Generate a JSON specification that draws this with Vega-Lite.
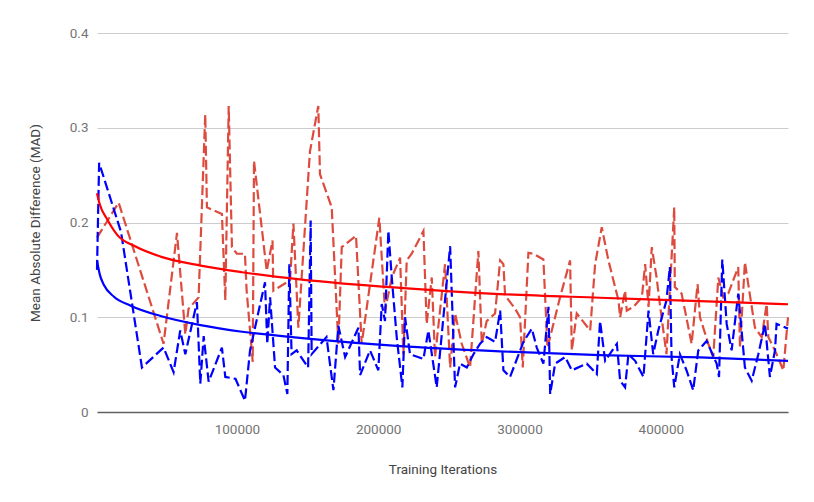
{
  "$schema": "https://vega.github.io/schema/vega-lite/v6.json",
  "width": 691,
  "height": 379,
  "autosize": "none",
  "padding": {"left": 97, "top": 33, "right": 26, "bottom": 90},
  "config": {
    "font": "Roboto",
    "view": {"stroke": null},
    "axis": {
      "labelColor": "#757575",
      "labelFontSize": 13.5,
      "titleColor": "#444444",
      "titleFontSize": 13.5,
      "titleFontWeight": "normal",
      "ticks": false
    }
  },
  "datasets": {
    "measured": [
      {"iter": 1000, "mad": 0.184, "series": "Red"},
      {"iter": 16300, "mad": 0.221, "series": "Red"},
      {"iter": 48100, "mad": 0.072, "series": "Red"},
      {"iter": 57600, "mad": 0.189, "series": "Red"},
      {"iter": 63500, "mad": 0.082, "series": "Red"},
      {"iter": 65800, "mad": 0.109, "series": "Red"},
      {"iter": 72900, "mad": 0.121, "series": "Red"},
      {"iter": 77600, "mad": 0.314, "series": "Red"},
      {"iter": 78800, "mad": 0.216, "series": "Red"},
      {"iter": 89400, "mad": 0.209, "series": "Red"},
      {"iter": 91800, "mad": 0.118, "series": "Red"},
      {"iter": 94200, "mad": 0.323, "series": "Red"},
      {"iter": 96500, "mad": 0.174, "series": "Red"},
      {"iter": 100000, "mad": 0.167, "series": "Red"},
      {"iter": 105700, "mad": 0.167, "series": "Red"},
      {"iter": 106900, "mad": 0.128, "series": "Red"},
      {"iter": 111200, "mad": 0.053, "series": "Red"},
      {"iter": 112100, "mad": 0.265, "series": "Red"},
      {"iter": 121100, "mad": 0.149, "series": "Red"},
      {"iter": 125200, "mad": 0.181, "series": "Red"},
      {"iter": 125800, "mad": 0.128, "series": "Red"},
      {"iter": 137600, "mad": 0.139, "series": "Red"},
      {"iter": 140000, "mad": 0.199, "series": "Red"},
      {"iter": 143500, "mad": 0.089, "series": "Red"},
      {"iter": 151700, "mad": 0.275, "series": "Red"},
      {"iter": 157600, "mad": 0.323, "series": "Red"},
      {"iter": 158800, "mad": 0.251, "series": "Red"},
      {"iter": 167100, "mad": 0.216, "series": "Red"},
      {"iter": 171800, "mad": 0.072, "series": "Red"},
      {"iter": 174200, "mad": 0.174, "series": "Red"},
      {"iter": 184300, "mad": 0.186, "series": "Red"},
      {"iter": 188300, "mad": 0.072, "series": "Red"},
      {"iter": 200800, "mad": 0.205, "series": "Red"},
      {"iter": 204800, "mad": 0.107, "series": "Red"},
      {"iter": 209600, "mad": 0.142, "series": "Red"},
      {"iter": 215500, "mad": 0.163, "series": "Red"},
      {"iter": 217800, "mad": 0.061, "series": "Red"},
      {"iter": 220200, "mad": 0.160, "series": "Red"},
      {"iter": 223700, "mad": 0.167, "series": "Red"},
      {"iter": 232000, "mad": 0.191, "series": "Red"},
      {"iter": 234300, "mad": 0.093, "series": "Red"},
      {"iter": 237900, "mad": 0.142, "series": "Red"},
      {"iter": 240200, "mad": 0.058, "series": "Red"},
      {"iter": 247300, "mad": 0.156, "series": "Red"},
      {"iter": 250900, "mad": 0.047, "series": "Red"},
      {"iter": 254400, "mad": 0.104, "series": "Red"},
      {"iter": 259100, "mad": 0.072, "series": "Red"},
      {"iter": 265000, "mad": 0.047, "series": "Red"},
      {"iter": 270900, "mad": 0.170, "series": "Red"},
      {"iter": 273300, "mad": 0.072, "series": "Red"},
      {"iter": 276800, "mad": 0.096, "series": "Red"},
      {"iter": 282700, "mad": 0.104, "series": "Red"},
      {"iter": 286300, "mad": 0.160, "series": "Red"},
      {"iter": 288600, "mad": 0.156, "series": "Red"},
      {"iter": 289800, "mad": 0.123, "series": "Red"},
      {"iter": 296900, "mad": 0.109, "series": "Red"},
      {"iter": 300400, "mad": 0.100, "series": "Red"},
      {"iter": 302300, "mad": 0.047, "series": "Red"},
      {"iter": 306300, "mad": 0.168, "series": "Red"},
      {"iter": 309900, "mad": 0.167, "series": "Red"},
      {"iter": 316900, "mad": 0.161, "series": "Red"},
      {"iter": 319800, "mad": 0.068, "series": "Red"},
      {"iter": 328700, "mad": 0.121, "series": "Red"},
      {"iter": 335800, "mad": 0.160, "series": "Red"},
      {"iter": 337000, "mad": 0.065, "series": "Red"},
      {"iter": 340500, "mad": 0.104, "series": "Red"},
      {"iter": 350000, "mad": 0.086, "series": "Red"},
      {"iter": 353500, "mad": 0.156, "series": "Red"},
      {"iter": 358200, "mad": 0.195, "series": "Red"},
      {"iter": 362900, "mad": 0.160, "series": "Red"},
      {"iter": 370000, "mad": 0.118, "series": "Red"},
      {"iter": 371200, "mad": 0.100, "series": "Red"},
      {"iter": 374700, "mad": 0.128, "series": "Red"},
      {"iter": 375900, "mad": 0.107, "series": "Red"},
      {"iter": 380600, "mad": 0.111, "series": "Red"},
      {"iter": 386600, "mad": 0.121, "series": "Red"},
      {"iter": 388900, "mad": 0.156, "series": "Red"},
      {"iter": 391300, "mad": 0.111, "series": "Red"},
      {"iter": 393600, "mad": 0.174, "series": "Red"},
      {"iter": 397000, "mad": 0.142, "series": "Red"},
      {"iter": 399300, "mad": 0.114, "series": "Red"},
      {"iter": 404000, "mad": 0.061, "series": "Red"},
      {"iter": 409500, "mad": 0.216, "series": "Red"},
      {"iter": 409900, "mad": 0.132, "series": "Red"},
      {"iter": 414700, "mad": 0.125, "series": "Red"},
      {"iter": 421800, "mad": 0.072, "series": "Red"},
      {"iter": 426000, "mad": 0.135, "series": "Red"},
      {"iter": 427700, "mad": 0.100, "series": "Red"},
      {"iter": 433600, "mad": 0.072, "series": "Red"},
      {"iter": 437100, "mad": 0.058, "series": "Red"},
      {"iter": 440700, "mad": 0.142, "series": "Red"},
      {"iter": 444200, "mad": 0.121, "series": "Red"},
      {"iter": 447700, "mad": 0.125, "series": "Red"},
      {"iter": 454800, "mad": 0.153, "series": "Red"},
      {"iter": 456000, "mad": 0.068, "series": "Red"},
      {"iter": 459500, "mad": 0.158, "series": "Red"},
      {"iter": 466600, "mad": 0.089, "series": "Red"},
      {"iter": 471400, "mad": 0.079, "series": "Red"},
      {"iter": 474900, "mad": 0.114, "series": "Red"},
      {"iter": 476100, "mad": 0.079, "series": "Red"},
      {"iter": 480800, "mad": 0.065, "series": "Red"},
      {"iter": 486700, "mad": 0.044, "series": "Red"},
      {"iter": 490000, "mad": 0.100, "series": "Red"},
      {"iter": 1000, "mad": 0.150, "series": "Blue"},
      {"iter": 2500, "mad": 0.263, "series": "Blue"},
      {"iter": 18000, "mad": 0.190, "series": "Blue"},
      {"iter": 32800, "mad": 0.047, "series": "Blue"},
      {"iter": 48100, "mad": 0.068, "series": "Blue"},
      {"iter": 55200, "mad": 0.042, "series": "Blue"},
      {"iter": 59900, "mad": 0.086, "series": "Blue"},
      {"iter": 63500, "mad": 0.061, "series": "Blue"},
      {"iter": 71700, "mad": 0.116, "series": "Blue"},
      {"iter": 74100, "mad": 0.030, "series": "Blue"},
      {"iter": 76500, "mad": 0.080, "series": "Blue"},
      {"iter": 80000, "mad": 0.032, "series": "Blue"},
      {"iter": 89400, "mad": 0.068, "series": "Blue"},
      {"iter": 91800, "mad": 0.037, "series": "Blue"},
      {"iter": 99000, "mad": 0.035, "series": "Blue"},
      {"iter": 105700, "mad": 0.012, "series": "Blue"},
      {"iter": 109300, "mad": 0.065, "series": "Blue"},
      {"iter": 119900, "mad": 0.137, "series": "Blue"},
      {"iter": 121500, "mad": 0.072, "series": "Blue"},
      {"iter": 123500, "mad": 0.121, "series": "Blue"},
      {"iter": 127000, "mad": 0.047, "series": "Blue"},
      {"iter": 132900, "mad": 0.039, "series": "Blue"},
      {"iter": 135700, "mad": 0.019, "series": "Blue"},
      {"iter": 137100, "mad": 0.156, "series": "Blue"},
      {"iter": 138700, "mad": 0.061, "series": "Blue"},
      {"iter": 142300, "mad": 0.065, "series": "Blue"},
      {"iter": 150400, "mad": 0.047, "series": "Blue"},
      {"iter": 152200, "mad": 0.202, "series": "Blue"},
      {"iter": 152900, "mad": 0.061, "series": "Blue"},
      {"iter": 163400, "mad": 0.079, "series": "Blue"},
      {"iter": 168300, "mad": 0.023, "series": "Blue"},
      {"iter": 171800, "mad": 0.091, "series": "Blue"},
      {"iter": 176600, "mad": 0.058, "series": "Blue"},
      {"iter": 186000, "mad": 0.089, "series": "Blue"},
      {"iter": 187200, "mad": 0.039, "series": "Blue"},
      {"iter": 194200, "mad": 0.065, "series": "Blue"},
      {"iter": 200100, "mad": 0.044, "series": "Blue"},
      {"iter": 202500, "mad": 0.114, "series": "Blue"},
      {"iter": 204800, "mad": 0.096, "series": "Blue"},
      {"iter": 207200, "mad": 0.191, "series": "Blue"},
      {"iter": 209600, "mad": 0.142, "series": "Blue"},
      {"iter": 213100, "mad": 0.079, "series": "Blue"},
      {"iter": 217100, "mad": 0.026, "series": "Blue"},
      {"iter": 219000, "mad": 0.100, "series": "Blue"},
      {"iter": 222500, "mad": 0.061, "series": "Blue"},
      {"iter": 232000, "mad": 0.056, "series": "Blue"},
      {"iter": 235500, "mad": 0.086, "series": "Blue"},
      {"iter": 241400, "mad": 0.026, "series": "Blue"},
      {"iter": 245000, "mad": 0.082, "series": "Blue"},
      {"iter": 250900, "mad": 0.175, "series": "Blue"},
      {"iter": 254400, "mad": 0.026, "series": "Blue"},
      {"iter": 257900, "mad": 0.051, "series": "Blue"},
      {"iter": 262700, "mad": 0.047, "series": "Blue"},
      {"iter": 267400, "mad": 0.061, "series": "Blue"},
      {"iter": 272100, "mad": 0.072, "series": "Blue"},
      {"iter": 276800, "mad": 0.079, "series": "Blue"},
      {"iter": 282700, "mad": 0.074, "series": "Blue"},
      {"iter": 286300, "mad": 0.107, "series": "Blue"},
      {"iter": 288600, "mad": 0.044, "series": "Blue"},
      {"iter": 293300, "mad": 0.037, "series": "Blue"},
      {"iter": 296900, "mad": 0.051, "series": "Blue"},
      {"iter": 302800, "mad": 0.074, "series": "Blue"},
      {"iter": 308700, "mad": 0.088, "series": "Blue"},
      {"iter": 312200, "mad": 0.068, "series": "Blue"},
      {"iter": 316900, "mad": 0.051, "series": "Blue"},
      {"iter": 320500, "mad": 0.111, "series": "Blue"},
      {"iter": 321700, "mad": 0.019, "series": "Blue"},
      {"iter": 325200, "mad": 0.051, "series": "Blue"},
      {"iter": 332300, "mad": 0.058, "series": "Blue"},
      {"iter": 337000, "mad": 0.044, "series": "Blue"},
      {"iter": 347600, "mad": 0.051, "series": "Blue"},
      {"iter": 354700, "mad": 0.040, "series": "Blue"},
      {"iter": 357000, "mad": 0.096, "series": "Blue"},
      {"iter": 360600, "mad": 0.054, "series": "Blue"},
      {"iter": 368900, "mad": 0.072, "series": "Blue"},
      {"iter": 371200, "mad": 0.033, "series": "Blue"},
      {"iter": 374700, "mad": 0.026, "series": "Blue"},
      {"iter": 377100, "mad": 0.061, "series": "Blue"},
      {"iter": 381800, "mad": 0.054, "series": "Blue"},
      {"iter": 387700, "mad": 0.037, "series": "Blue"},
      {"iter": 391300, "mad": 0.107, "series": "Blue"},
      {"iter": 394600, "mad": 0.061, "series": "Blue"},
      {"iter": 398200, "mad": 0.086, "series": "Blue"},
      {"iter": 404000, "mad": 0.118, "series": "Blue"},
      {"iter": 406400, "mad": 0.153, "series": "Blue"},
      {"iter": 407600, "mad": 0.058, "series": "Blue"},
      {"iter": 409500, "mad": 0.026, "series": "Blue"},
      {"iter": 413500, "mad": 0.061, "series": "Blue"},
      {"iter": 418200, "mad": 0.044, "series": "Blue"},
      {"iter": 422900, "mad": 0.023, "series": "Blue"},
      {"iter": 426500, "mad": 0.065, "series": "Blue"},
      {"iter": 432400, "mad": 0.075, "series": "Blue"},
      {"iter": 439500, "mad": 0.051, "series": "Blue"},
      {"iter": 441200, "mad": 0.037, "series": "Blue"},
      {"iter": 443500, "mad": 0.161, "series": "Blue"},
      {"iter": 446600, "mad": 0.093, "series": "Blue"},
      {"iter": 450100, "mad": 0.065, "series": "Blue"},
      {"iter": 454800, "mad": 0.125, "series": "Blue"},
      {"iter": 459500, "mad": 0.047, "series": "Blue"},
      {"iter": 464300, "mad": 0.033, "series": "Blue"},
      {"iter": 469000, "mad": 0.061, "series": "Blue"},
      {"iter": 473700, "mad": 0.093, "series": "Blue"},
      {"iter": 477200, "mad": 0.037, "series": "Blue"},
      {"iter": 480800, "mad": 0.065, "series": "Blue"},
      {"iter": 481900, "mad": 0.093, "series": "Blue"},
      {"iter": 490000, "mad": 0.088, "series": "Blue"}
    ],
    "trend": [
      {"iter": 1000, "mad": 0.231, "series": "Red"},
      {"iter": 3000, "mad": 0.219, "series": "Red"},
      {"iter": 8200, "mad": 0.2035, "series": "Red"},
      {"iter": 15300, "mad": 0.187, "series": "Red"},
      {"iter": 28300, "mad": 0.1746, "series": "Red"},
      {"iter": 46000, "mad": 0.164, "series": "Red"},
      {"iter": 74300, "mad": 0.1545, "series": "Red"},
      {"iter": 103700, "mad": 0.1475, "series": "Red"},
      {"iter": 144500, "mad": 0.140, "series": "Red"},
      {"iter": 215400, "mad": 0.131, "series": "Red"},
      {"iter": 286000, "mad": 0.1245, "series": "Red"},
      {"iter": 356900, "mad": 0.1206, "series": "Red"},
      {"iter": 427700, "mad": 0.117, "series": "Red"},
      {"iter": 490000, "mad": 0.1137, "series": "Red"},
      {"iter": 1000, "mad": 0.160, "series": "Blue"},
      {"iter": 3000, "mad": 0.145, "series": "Blue"},
      {"iter": 5900, "mad": 0.134, "series": "Blue"},
      {"iter": 13000, "mad": 0.1217, "series": "Blue"},
      {"iter": 24800, "mad": 0.1122, "series": "Blue"},
      {"iter": 46000, "mad": 0.1013, "series": "Blue"},
      {"iter": 74300, "mad": 0.0917, "series": "Blue"},
      {"iter": 103700, "mad": 0.0847, "series": "Blue"},
      {"iter": 144500, "mad": 0.0783, "series": "Blue"},
      {"iter": 215400, "mad": 0.0695, "series": "Blue"},
      {"iter": 286000, "mad": 0.064, "series": "Blue"},
      {"iter": 356900, "mad": 0.060, "series": "Blue"},
      {"iter": 427700, "mad": 0.0576, "series": "Blue"},
      {"iter": 490000, "mad": 0.054, "series": "Blue"}
    ]
  },
  "encoding": {
    "x": {
      "field": "iter",
      "type": "quantitative",
      "scale": {"domain": [1000, 490000], "nice": false, "zero": false},
      "axis": {
        "title": "Training Iterations",
        "values": [100000, 200000, 300000, 400000],
        "format": "d",
        "grid": false,
        "domainColor": "#616161",
        "domainWidth": 1.5,
        "labelPadding": 10,
        "titlePadding": 27
      }
    },
    "y": {
      "field": "mad",
      "type": "quantitative",
      "scale": {"domain": [0, 0.4], "nice": false},
      "axis": {
        "title": "Mean Absolute Difference (MAD)",
        "values": [0, 0.1, 0.2, 0.3, 0.4],
        "format": ".1~f",
        "domain": false,
        "gridColor": "#cccccc",
        "labelPadding": 9,
        "titlePadding": 27
      }
    }
  },
  "layer": [
    {
      "data": {"name": "measured"},
      "mark": {"type": "line", "strokeDash": [10, 4], "strokeWidth": 2.2},
      "encoding": {
        "color": {
          "field": "series",
          "type": "nominal",
          "scale": {"domain": ["Red", "Blue"], "range": ["#dd4b3e", "#0000ff"]},
          "legend": null
        }
      }
    },
    {
      "data": {"name": "trend"},
      "mark": {"type": "line", "strokeWidth": 2.2, "interpolate": "monotone"},
      "encoding": {
        "color": {
          "field": "series",
          "type": "nominal",
          "scale": {"domain": ["Red", "Blue"], "range": ["#ff0000", "#0000ff"]},
          "legend": null
        }
      }
    }
  ],
  "resolve": {"scale": {"color": "independent"}}
}
